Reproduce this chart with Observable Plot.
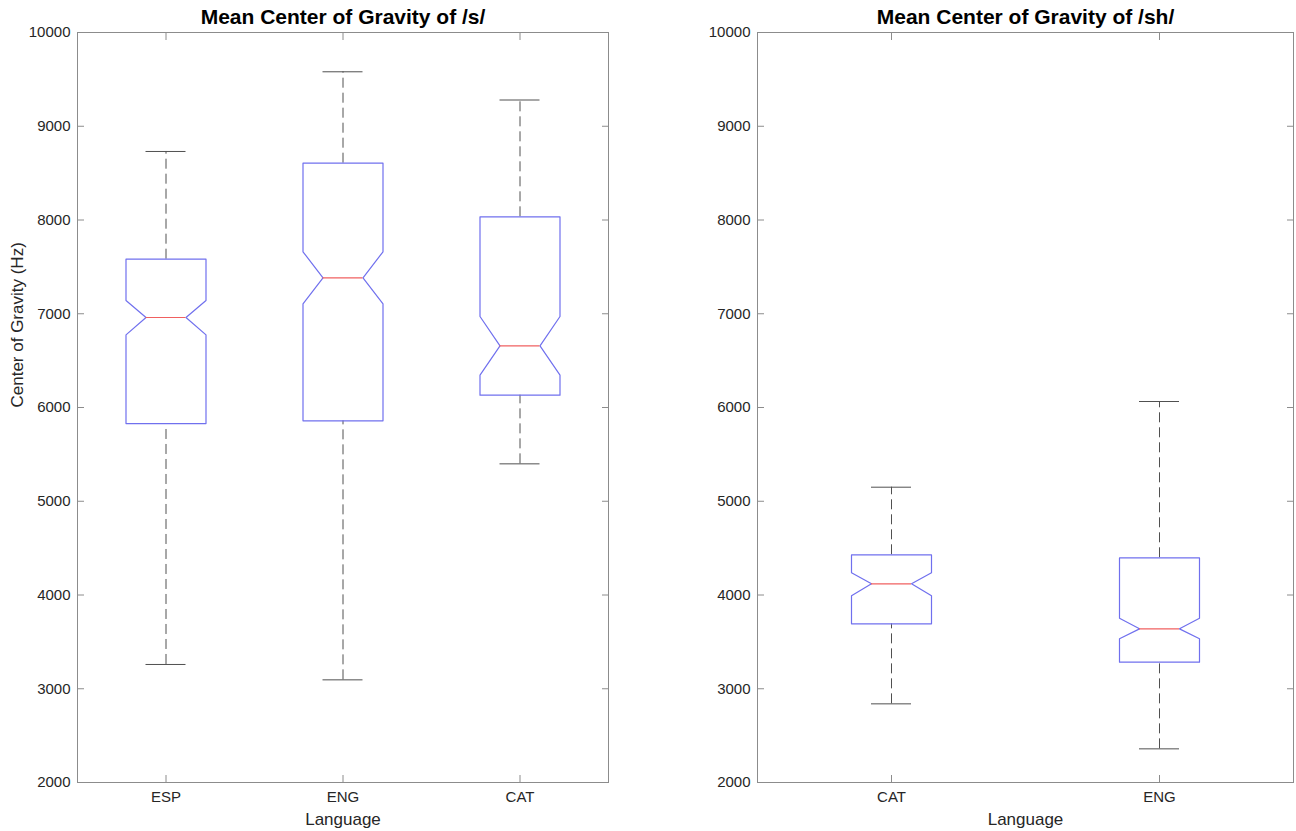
<!DOCTYPE html>
<html><head><meta charset="utf-8">
<script src="https://cdn.jsdelivr.net/npm/d3@7"></script>
<script src="https://cdn.jsdelivr.net/npm/@observablehq/plot@0.6"></script>
<style>
body{margin:0;background:#fff;}
#wrap{position:relative;width:1296px;height:831px;overflow:hidden;}
#wrap svg{position:absolute;top:0;}
</style></head><body><div id="wrap"></div>
<script>
// ---- data: Mean Center of Gravity of /s/ ----
const catsS = ["ESP", "ENG", "CAT"];
const whiskerLowS  = [3259, 3095, 5399];
const q1S          = [5829, 5858, 6131];
const notchLowS    = [6775, 7106, 6345];
const medianS      = [6960, 7383, 6658];
const notchHighS   = [7141, 7661, 6971];
const q3S          = [7582, 8606, 8034];
const whiskerHighS = [8731, 9581, 9280];

// ---- data: Mean Center of Gravity of /sh/ ----
const catsSh = ["CAT", "ENG"];
const whiskerLowSh  = [2839, 2359];
const q1Sh          = [3693, 3283];
const notchLowSh    = [3991, 3533];
const medianSh      = [4119, 3639];
const notchHighSh   = [4237, 3752];
const q3Sh          = [4429, 4397];
const whiskerHighSh = [5150, 6064];

const yTicks = [2000, 3000, 4000, 5000, 6000, 7000, 8000, 9000, 10000];
const titles = ["Mean Center of Gravity of /s/", "Mean Center of Gravity of /sh/"];
const yLabel = "Center of Gravity (Hz)";
const xLabel = "Language";

const AXIS = "#8c8c8c", TEXT = "#262626", BLUE = "#7070ee", RED = "#f06060", WHISK = "#505050";

function panel({cats, lo, q1, nlo, med, nhi, q3, hi, title, ylabel, width, ml, mr}) {
  const n = cats.length;
  const frameW = width - ml - mr;
  const stepPx = frameW / n;
  const hw = 40 / stepPx;             // box half width (40px) in data units
  const idx = cats.map((c, i) => i + 1);
  const boxPts = [];
  cats.forEach((c, i) => {
    const x = i + 1;
    [[x - hw, q1[i]], [x + hw, q1[i]], [x + hw, nlo[i]], [x + hw / 2, med[i]], [x + hw, nhi[i]],
     [x + hw, q3[i]], [x - hw, q3[i]], [x - hw, nhi[i]], [x - hw / 2, med[i]], [x - hw, nlo[i]], [x - hw, q1[i]]]
      .forEach(([px, py]) => boxPts.push({cat: c, x: px, y: py}));
  });
  const rows = cats.map((c, i) => ({cat: c, x: i + 1, lo: lo[i], q1: q1[i], med: med[i], q3: q3[i], hi: hi[i]}));
  const fmt = d => cats[d - 1];
  const marks = [
    Plot.frame({stroke: AXIS, strokeWidth: 1}),
    // inward tick marks
    Plot.axisY(yTicks, {anchor: "left", tickSize: 7, dx: 7, tickFormat: () => "", label: null, stroke: AXIS}),
    Plot.axisY(yTicks, {anchor: "right", tickSize: 7, dx: -7, tickFormat: () => "", label: null, stroke: AXIS}),
    Plot.axisX(idx, {anchor: "bottom", tickSize: 7, dy: -7, tickFormat: () => "", label: null, stroke: AXIS}),
    Plot.axisX(idx, {anchor: "top", tickSize: 7, dy: 7, tickFormat: () => "", label: null, stroke: AXIS}),
    // tick labels
    Plot.axisY(yTicks, {anchor: "left", tickSize: 0, tickPadding: 7, tickFormat: d => String(d), label: null, fontSize: 15, fill: TEXT}),
    Plot.axisX(idx, {anchor: "bottom", tickSize: 0, tickPadding: 9, tickFormat: fmt, label: null, fontSize: 15, fill: TEXT}),
    // whiskers
    Plot.ruleX(rows, {x: "x", y1: "q3", y2: "hi", stroke: WHISK, strokeDasharray: "10,5"}),
    Plot.ruleX(rows, {x: "x", y1: "lo", y2: "q1", stroke: WHISK, strokeDasharray: "10,5"}),
    Plot.ruleY(rows, {y: "hi", x1: d => d.x - hw / 2, x2: d => d.x + hw / 2, stroke: WHISK}),
    Plot.ruleY(rows, {y: "lo", x1: d => d.x - hw / 2, x2: d => d.x + hw / 2, stroke: WHISK}),
    // notched boxes
    Plot.line(boxPts, {x: "x", y: "y", z: "cat", stroke: BLUE, strokeWidth: 1.2, curve: "linear"}),
    // medians
    Plot.ruleY(rows, {y: "med", x1: d => d.x - hw / 2, x2: d => d.x + hw / 2, stroke: RED, strokeWidth: 1.2}),
    // title and axis labels
    Plot.text([title], {frameAnchor: "top", lineAnchor: "middle", dy: -15, fontSize: 21, fontWeight: "bold", fill: "#000"}),
    Plot.text([xLabel], {frameAnchor: "bottom", lineAnchor: "middle", dy: 37, fontSize: 17, fill: TEXT})
  ];
  if (ylabel) marks.push(Plot.text([ylabel], {frameAnchor: "left", lineAnchor: "middle", rotate: -90, dx: -60, fontSize: 17, fill: TEXT}));
  return Plot.plot({
    width, height: 831, marginLeft: ml, marginRight: mr, marginTop: 32, marginBottom: 49,
    style: {fontFamily: "'Liberation Sans', Arial, Helvetica, sans-serif", fontSize: "15px", background: "white", overflow: "visible"},
    x: {domain: [0.5, n + 0.5]},
    y: {domain: [2000, 10000]},
    marks
  });
}

const wrap = document.getElementById("wrap");
const left = panel({cats: catsS, lo: whiskerLowS, q1: q1S, nlo: notchLowS, med: medianS, nhi: notchHighS,
  q3: q3S, hi: whiskerHighS, title: titles[0], ylabel: yLabel, width: 648, ml: 77, mr: 40});
left.style.left = "0px";
const right = panel({cats: catsSh, lo: whiskerLowSh, q1: q1Sh, nlo: notchLowSh, med: medianSh, nhi: notchHighSh,
  q3: q3Sh, hi: whiskerHighSh, title: titles[1], ylabel: null, width: 648, ml: 109, mr: 3});
right.style.left = "648px";
wrap.appendChild(left);
wrap.appendChild(right);
</script></body></html>
